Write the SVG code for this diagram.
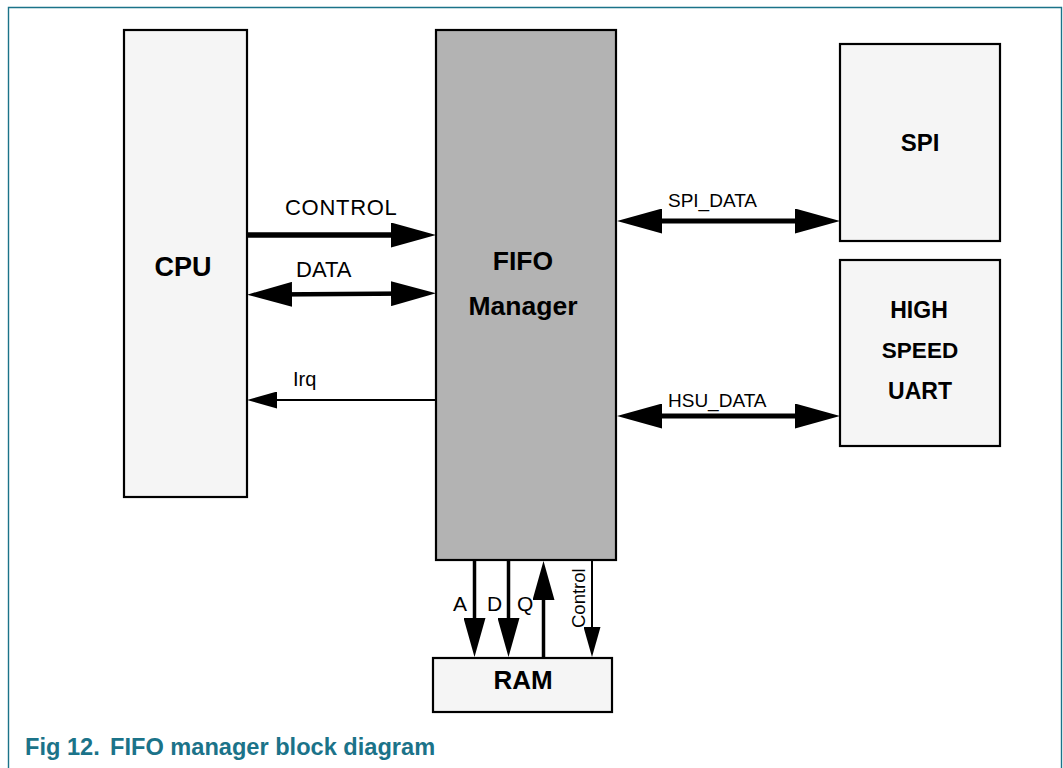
<svg xmlns="http://www.w3.org/2000/svg" width="1063" height="768" viewBox="0 0 1063 768">
<style>
  .box{fill:#f5f5f5;stroke:#000;stroke-width:2.2}
  .fifo{fill:#b3b3b3;stroke:#000;stroke-width:2.2}
  .t{font-family:"Liberation Sans",Arial,sans-serif;fill:#000}
  .b{font-family:"Liberation Sans",Arial,sans-serif;font-weight:bold;fill:#000;text-anchor:middle}
  .frame{fill:none;stroke:#1b7389;stroke-width:1.4}
  .cap{font-family:"Liberation Sans",Arial,sans-serif;font-weight:bold;fill:#1b7389;font-size:23.6px}
  .wire{fill:none;stroke:#000}
</style>
<defs>
  <marker id="ahBig" markerUnits="userSpaceOnUse" viewBox="0 0 45 25" refX="20" refY="12.5" markerWidth="45" markerHeight="25" orient="auto-start-reverse">
    <path d="M0,0 L45,12.5 L0,25 z" fill="#000"/>
  </marker>
  <marker id="ahMid" markerUnits="userSpaceOnUse" viewBox="0 0 39 22" refX="20" refY="11" markerWidth="39" markerHeight="22" orient="auto-start-reverse">
    <path d="M0,0 L39,11 L0,22 z" fill="#000"/>
  </marker>
  <marker id="ahSmall" markerUnits="userSpaceOnUse" viewBox="0 0 30 17" refX="20" refY="8.5" markerWidth="30" markerHeight="17" orient="auto-start-reverse">
    <path d="M0,0 L30,8.5 L0,17 z" fill="#000"/>
  </marker>
</defs>

<g id="frame">
  <path class="frame" d="M8.5,768 V7.5 H1061.5 V768"/>
</g>

<g id="cpu">
  <rect class="box" x="124" y="30" width="123" height="467"/>
  <text class="b" x="183" y="276" font-size="27">CPU</text>
</g>

<g id="fifo">
  <rect class="fifo" x="436" y="30" width="180" height="530"/>
  <text class="b" x="523" y="270" font-size="26.5">FIFO</text>
  <text class="b" x="523" y="315" font-size="26.5">Manager</text>
</g>

<g id="spi">
  <rect class="box" x="840" y="44" width="160" height="197"/>
  <text class="b" x="920" y="151" font-size="24">SPI</text>
</g>

<g id="hsu">
  <rect class="box" x="840" y="260" width="160" height="186"/>
  <text class="b" x="919" y="318" font-size="23">HIGH</text>
  <text class="b" x="920" y="358" font-size="22.5">SPEED</text>
  <text class="b" x="920" y="399" font-size="23">UART</text>
</g>

<g id="ram">
  <rect class="box" x="433" y="658" width="179" height="54"/>
  <text class="b" x="523" y="689" font-size="26">RAM</text>
</g>

<g id="connectors">
  <line class="wire" x1="247" y1="235" x2="411" y2="235" stroke-width="5.5" marker-end="url(#ahBig)"/>
  <line class="wire" x1="272" y1="294.5" x2="411" y2="293.5" stroke-width="4.5" marker-start="url(#ahBig)" marker-end="url(#ahBig)"/>
  <line class="wire" x1="436" y1="400" x2="257" y2="400" stroke-width="2" marker-end="url(#ahSmall)"/>
  <line class="wire" x1="642" y1="221" x2="815" y2="221" stroke-width="5" marker-start="url(#ahBig)" marker-end="url(#ahBig)"/>
  <line class="wire" x1="642" y1="416" x2="815" y2="416" stroke-width="5" marker-start="url(#ahBig)" marker-end="url(#ahBig)"/>
  <line class="wire" x1="474.5" y1="560" x2="474.5" y2="638" stroke-width="3.5" marker-end="url(#ahMid)"/>
  <line class="wire" x1="508.5" y1="560" x2="508.5" y2="638" stroke-width="3.5" marker-end="url(#ahMid)"/>
  <line class="wire" x1="543.5" y1="658" x2="543.5" y2="580" stroke-width="3.5" marker-end="url(#ahMid)"/>
  <line class="wire" x1="592" y1="560" x2="592" y2="647" stroke-width="2" marker-end="url(#ahSmall)"/>

  <text class="t" x="285" y="215" font-size="22" letter-spacing="0.7">CONTROL</text>
  <text class="t" x="296" y="277" font-size="22">DATA</text>
  <text class="t" x="293" y="386" font-size="20">Irq</text>
  <text class="t" x="668" y="207" font-size="19">SPI_DATA</text>
  <text class="t" x="668" y="407" font-size="19">HSU_DATA</text>
  <text class="t" x="453" y="611" font-size="21">A</text>
  <text class="t" x="487" y="611" font-size="21">D</text>
  <text class="t" x="517" y="611" font-size="21">Q</text>
  <text class="t" x="585" y="628" font-size="18.5" transform="rotate(-90 585 628)">Control</text>
</g>

<g id="caption">
  <text class="cap" y="755"><tspan x="25">Fig 12.</tspan><tspan x="110">FIFO manager block diagram</tspan></text>
</g>
</svg>
